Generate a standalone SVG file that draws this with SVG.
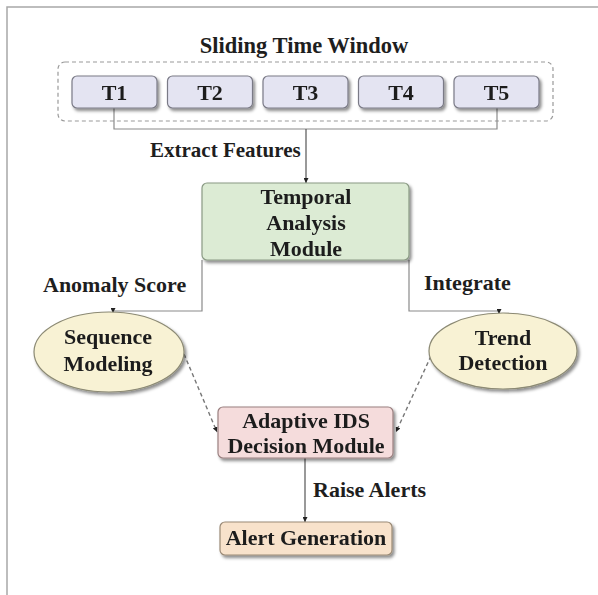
<svg xmlns="http://www.w3.org/2000/svg" width="598" height="595" viewBox="0 0 598 595">
  <style>
    .lbl { font-family: "Liberation Serif", "Times New Roman", serif; font-weight: bold; font-size: 22px; fill: #1e1e1e; text-anchor: middle; }
    .edge-lbl { font-family: "Liberation Serif", "Times New Roman", serif; font-weight: bold; font-size: 22px; fill: #1e1e1e; }
    .title { font-family: "Liberation Serif", "Times New Roman", serif; font-weight: bold; font-size: 22.5px; fill: #1e1e1e; text-anchor: middle; }
    .tbox { fill: #e4e4f2; stroke: #7a7a86; stroke-width: 1.2; }
    .line { fill: none; stroke: #555; stroke-width: 1.2; }
    .line-light { fill: none; stroke: #8a8a8a; stroke-width: 1.2; }
    .dash { fill: none; stroke: #777; stroke-width: 1.4; stroke-dasharray: 4 3; }
  </style>
  <defs>
    <filter id="shadow" x="-20%" y="-20%" width="140%" height="150%">
      <feDropShadow dx="2" dy="2.5" stdDeviation="1.6" flood-color="#000" flood-opacity="0.45"/>
    </filter>
    <marker id="arrow" viewBox="0 0 10 10" refX="10" refY="5" markerWidth="5" markerHeight="5" orient="auto" markerUnits="userSpaceOnUse">
      <path d="M0,0 L10,5 L0,10 z" fill="#222"/>
    </marker>
  </defs>

  <rect width="598" height="595" fill="#fff"/>
  <!-- outer frame -->
  <path d="M7,595 V7 H598" fill="none" stroke="#a8a8a8" stroke-width="1.5"/>

  <text class="title" x="304" y="53">Sliding Time Window</text>

  <!-- window container -->
  <rect x="58" y="62" width="495" height="59" rx="7" fill="none" stroke="#999" stroke-width="1.2" stroke-dasharray="4 3"/>

  <g id="connectors">
    <path class="line-light" d="M114,108 V129 H497 V108"/>
    <path class="line" d="M306,129 V183" marker-end="url(#arrow)"/>
    <path class="line-light" d="M202,260 V311 H113 V313" marker-end="url(#arrow)"/>
    <path class="line-light" d="M409,260 V311 H499 V314" marker-end="url(#arrow)"/>
    <path class="dash" d="M184,354 L217,432" marker-end="url(#arrow)"/>
    <path class="dash" d="M431,356 L396,432" marker-end="url(#arrow)"/>
    <path class="line" d="M305,458 V522" marker-end="url(#arrow)"/>
  </g>

  <g id="edge-labels">
    <text class="edge-lbl" x="150" y="157" style="font-size:21px">Extract Features</text>
    <text class="edge-lbl" x="43" y="292">Anomaly Score</text>
    <text class="edge-lbl" x="424" y="290">Integrate</text>
    <text class="edge-lbl" x="313" y="497">Raise Alerts</text>
  </g>

  <g id="t1" filter="url(#shadow)">
    <rect class="tbox" x="72" y="76" width="85" height="32" rx="5"/>
    <text class="lbl" x="114.5" y="99.5">T1</text>
  </g>
  <g id="t2" filter="url(#shadow)">
    <rect class="tbox" x="167.5" y="76" width="85" height="32" rx="5"/>
    <text class="lbl" x="210" y="99.5">T2</text>
  </g>
  <g id="t3" filter="url(#shadow)">
    <rect class="tbox" x="263" y="76" width="85" height="32" rx="5"/>
    <text class="lbl" x="305.5" y="99.5">T3</text>
  </g>
  <g id="t4" filter="url(#shadow)">
    <rect class="tbox" x="358.5" y="76" width="85" height="32" rx="5"/>
    <text class="lbl" x="401" y="99.5">T4</text>
  </g>
  <g id="t5" filter="url(#shadow)">
    <rect class="tbox" x="454" y="76" width="85" height="32" rx="5"/>
    <text class="lbl" x="496.5" y="99.5">T5</text>
  </g>

  <g id="temporal" filter="url(#shadow)">
    <rect x="202" y="183" width="207" height="77" rx="5" fill="#dcebd4" stroke="#8a9a84" stroke-width="1.2"/>
    <text class="lbl" x="306" y="204">Temporal</text>
    <text class="lbl" x="306" y="230">Analysis</text>
    <text class="lbl" x="306" y="256">Module</text>
  </g>

  <g id="sequence" filter="url(#shadow)">
    <ellipse cx="109" cy="352" rx="75" ry="40" fill="#f8f2d4" stroke="#8c8a74" stroke-width="1.2"/>
    <text class="lbl" x="108" y="344">Sequence</text>
    <text class="lbl" x="108" y="371">Modeling</text>
  </g>

  <g id="trend" filter="url(#shadow)">
    <ellipse cx="503" cy="351" rx="74" ry="38" fill="#f8f2d4" stroke="#8c8a74" stroke-width="1.2"/>
    <text class="lbl" x="503" y="345">Trend</text>
    <text class="lbl" x="503" y="370">Detection</text>
  </g>

  <g id="adaptive" filter="url(#shadow)">
    <rect x="218" y="407" width="175" height="51" rx="5" fill="#f5dcdc" stroke="#9a8080" stroke-width="1.2"/>
    <text class="lbl" x="306" y="428">Adaptive IDS</text>
    <text class="lbl" x="306" y="453">Decision Module</text>
  </g>

  <g id="alert" filter="url(#shadow)">
    <rect x="220" y="522" width="172" height="33" rx="5" fill="#f8e2cb" stroke="#9a8a76" stroke-width="1.2"/>
    <text class="lbl" x="306" y="545">Alert Generation</text>
  </g>
</svg>
